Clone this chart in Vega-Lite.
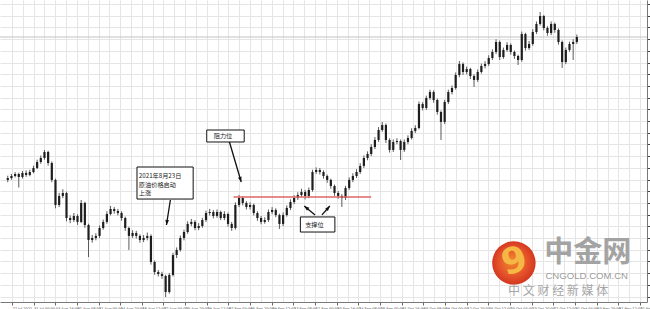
{
  "$schema": "https://vega.github.io/schema/vega-lite/v6.json",
  "width": 647,
  "height": 302,
  "autosize": "none",
  "padding": {"left": 0, "top": 0, "right": 3, "bottom": 7},
  "background": "white",
  "config": {"view": {"stroke": null}, "font": "DejaVu Sans"},
  "data": {"values": [{}]},
  "datasets": {
    "bars": [
      {"t":-1,"o":71.49,"h":71.85,"l":71.30,"c":71.65},
      {"t":0,"o":71.65,"h":72.00,"l":71.50,"c":71.82},
      {"t":1,"o":71.82,"h":72.15,"l":71.70,"c":71.99},
      {"t":2,"o":71.99,"h":72.10,"l":70.85,"c":71.74},
      {"t":3,"o":71.74,"h":72.25,"l":71.60,"c":72.08},
      {"t":4,"o":72.08,"h":72.30,"l":71.75,"c":71.91},
      {"t":5,"o":71.91,"h":72.35,"l":71.80,"c":72.16},
      {"t":6,"o":72.16,"h":72.70,"l":72.05,"c":72.50},
      {"t":7,"o":72.50,"h":73.20,"l":72.40,"c":73.00},
      {"t":8,"o":73.00,"h":73.55,"l":72.85,"c":73.34},
      {"t":9,"o":73.34,"h":74.02,"l":73.20,"c":73.85},
      {"t":10,"o":73.85,"h":73.95,"l":72.70,"c":72.92},
      {"t":11,"o":72.92,"h":73.05,"l":71.30,"c":71.49},
      {"t":12,"o":71.49,"h":71.60,"l":69.10,"c":69.38},
      {"t":13,"o":69.38,"h":70.40,"l":69.20,"c":70.14},
      {"t":14,"o":70.14,"h":70.70,"l":69.95,"c":70.39},
      {"t":15,"o":70.39,"h":70.50,"l":68.00,"c":68.28},
      {"t":16,"o":68.28,"h":68.50,"l":67.85,"c":68.11},
      {"t":17,"o":68.11,"h":68.70,"l":67.95,"c":68.45},
      {"t":18,"o":68.45,"h":68.60,"l":67.70,"c":67.95},
      {"t":19,"o":67.95,"h":69.80,"l":67.85,"c":69.55},
      {"t":20,"o":69.55,"h":69.65,"l":67.45,"c":67.69},
      {"t":21,"o":67.69,"h":67.80,"l":64.99,"c":66.43},
      {"t":22,"o":66.43,"h":66.85,"l":66.20,"c":66.60},
      {"t":23,"o":66.60,"h":67.00,"l":66.40,"c":66.77},
      {"t":24,"o":66.77,"h":67.65,"l":66.60,"c":67.44},
      {"t":25,"o":67.44,"h":68.15,"l":67.30,"c":67.95},
      {"t":26,"o":67.95,"h":68.85,"l":67.80,"c":68.62},
      {"t":27,"o":68.62,"h":69.30,"l":68.50,"c":69.04},
      {"t":28,"o":69.04,"h":69.20,"l":68.65,"c":68.87},
      {"t":29,"o":68.87,"h":69.05,"l":68.50,"c":68.70},
      {"t":30,"o":68.70,"h":68.85,"l":68.05,"c":68.28},
      {"t":31,"o":68.28,"h":68.40,"l":67.20,"c":67.44},
      {"t":32,"o":67.44,"h":67.55,"l":65.59,"c":66.77},
      {"t":33,"o":66.77,"h":67.25,"l":66.60,"c":67.02},
      {"t":34,"o":67.02,"h":67.20,"l":66.55,"c":66.77},
      {"t":35,"o":66.77,"h":66.90,"l":66.20,"c":66.43},
      {"t":36,"o":66.43,"h":66.85,"l":66.25,"c":66.60},
      {"t":37,"o":66.60,"h":67.05,"l":66.40,"c":66.77},
      {"t":38,"o":66.77,"h":66.90,"l":64.35,"c":64.57},
      {"t":39,"o":64.57,"h":64.70,"l":63.50,"c":63.73},
      {"t":40,"o":63.73,"h":63.90,"l":63.35,"c":63.56},
      {"t":41,"o":63.56,"h":63.75,"l":63.15,"c":63.39},
      {"t":42,"o":63.39,"h":63.50,"l":61.62,"c":62.04},
      {"t":43,"o":62.04,"h":63.65,"l":61.90,"c":63.48},
      {"t":44,"o":63.48,"h":65.35,"l":63.35,"c":65.16},
      {"t":45,"o":65.16,"h":65.80,"l":64.90,"c":65.59},
      {"t":46,"o":65.59,"h":66.80,"l":65.45,"c":66.60},
      {"t":47,"o":66.60,"h":67.30,"l":66.40,"c":67.10},
      {"t":48,"o":67.10,"h":68.00,"l":66.95,"c":67.78},
      {"t":49,"o":67.78,"h":68.20,"l":67.60,"c":67.95},
      {"t":50,"o":67.95,"h":68.10,"l":67.25,"c":67.44},
      {"t":51,"o":67.44,"h":67.85,"l":67.25,"c":67.61},
      {"t":52,"o":67.61,"h":68.30,"l":67.45,"c":68.11},
      {"t":53,"o":68.11,"h":68.90,"l":67.95,"c":68.70},
      {"t":54,"o":68.70,"h":69.05,"l":68.50,"c":68.79},
      {"t":55,"o":68.79,"h":68.95,"l":68.25,"c":68.45},
      {"t":56,"o":68.45,"h":69.00,"l":68.30,"c":68.79},
      {"t":57,"o":68.79,"h":68.90,"l":68.10,"c":68.28},
      {"t":58,"o":68.28,"h":68.85,"l":68.10,"c":68.62},
      {"t":59,"o":68.62,"h":68.75,"l":67.55,"c":67.78},
      {"t":60,"o":67.78,"h":67.95,"l":67.20,"c":67.44},
      {"t":61,"o":67.44,"h":69.60,"l":67.30,"c":69.38},
      {"t":62,"o":69.38,"h":70.22,"l":69.20,"c":69.97},
      {"t":63,"o":69.97,"h":70.10,"l":69.35,"c":69.55},
      {"t":64,"o":69.55,"h":69.70,"l":69.00,"c":69.21},
      {"t":65,"o":69.21,"h":69.60,"l":69.00,"c":69.38},
      {"t":66,"o":69.38,"h":69.50,"l":68.50,"c":68.70},
      {"t":67,"o":68.70,"h":68.85,"l":68.05,"c":68.28},
      {"t":68,"o":68.28,"h":68.45,"l":67.75,"c":67.95},
      {"t":69,"o":67.95,"h":68.35,"l":67.80,"c":68.11},
      {"t":70,"o":68.11,"h":69.00,"l":67.95,"c":68.79},
      {"t":71,"o":68.79,"h":69.20,"l":68.60,"c":68.96},
      {"t":72,"o":68.96,"h":69.10,"l":68.35,"c":68.53},
      {"t":73,"o":68.53,"h":68.65,"l":67.36,"c":67.78},
      {"t":74,"o":67.78,"h":68.75,"l":67.60,"c":68.53},
      {"t":75,"o":68.53,"h":69.35,"l":68.40,"c":69.13},
      {"t":76,"o":69.13,"h":69.85,"l":68.95,"c":69.63},
      {"t":77,"o":69.63,"h":70.20,"l":69.45,"c":69.97},
      {"t":78,"o":69.97,"h":70.45,"l":69.80,"c":70.22},
      {"t":79,"o":70.22,"h":70.75,"l":70.05,"c":70.47},
      {"t":80,"o":70.47,"h":70.65,"l":69.85,"c":70.14},
      {"t":81,"o":70.14,"h":70.85,"l":69.95,"c":70.64},
      {"t":82,"o":70.64,"h":72.35,"l":70.50,"c":72.16},
      {"t":83,"o":72.16,"h":72.55,"l":72.00,"c":72.33},
      {"t":84,"o":72.33,"h":72.50,"l":71.95,"c":72.16},
      {"t":85,"o":72.16,"h":72.30,"l":71.60,"c":71.82},
      {"t":86,"o":71.82,"h":71.95,"l":71.25,"c":71.49},
      {"t":87,"o":71.49,"h":71.60,"l":70.75,"c":70.98},
      {"t":88,"o":70.98,"h":71.10,"l":70.15,"c":70.39},
      {"t":89,"o":70.39,"h":70.55,"l":69.90,"c":70.14},
      {"t":90,"o":70.14,"h":70.30,"l":69.21,"c":69.97},
      {"t":91,"o":69.97,"h":71.00,"l":69.80,"c":70.81},
      {"t":92,"o":70.81,"h":71.70,"l":70.65,"c":71.49},
      {"t":93,"o":71.49,"h":72.05,"l":71.30,"c":71.82},
      {"t":94,"o":71.82,"h":72.40,"l":71.65,"c":72.16},
      {"t":95,"o":72.16,"h":72.90,"l":72.00,"c":72.67},
      {"t":96,"o":72.67,"h":73.55,"l":72.50,"c":73.34},
      {"t":97,"o":73.34,"h":73.90,"l":73.15,"c":73.68},
      {"t":98,"o":73.68,"h":74.50,"l":73.50,"c":74.27},
      {"t":99,"o":74.27,"h":75.10,"l":74.10,"c":74.86},
      {"t":100,"o":74.86,"h":75.95,"l":74.70,"c":75.70},
      {"t":101,"o":75.70,"h":76.38,"l":75.55,"c":76.12},
      {"t":102,"o":76.12,"h":76.25,"l":74.60,"c":74.86},
      {"t":103,"o":74.86,"h":75.00,"l":73.80,"c":74.02},
      {"t":104,"o":74.02,"h":74.90,"l":73.85,"c":74.69},
      {"t":105,"o":74.69,"h":75.00,"l":74.50,"c":74.77},
      {"t":106,"o":74.77,"h":74.90,"l":73.17,"c":74.02},
      {"t":107,"o":74.02,"h":74.90,"l":73.85,"c":74.69},
      {"t":108,"o":74.69,"h":75.25,"l":74.50,"c":75.03},
      {"t":109,"o":75.03,"h":75.85,"l":74.90,"c":75.62},
      {"t":110,"o":75.62,"h":76.10,"l":75.45,"c":75.87},
      {"t":111,"o":75.87,"h":78.10,"l":75.75,"c":77.89},
      {"t":112,"o":77.89,"h":78.05,"l":77.35,"c":77.56},
      {"t":113,"o":77.56,"h":78.60,"l":77.40,"c":78.40},
      {"t":114,"o":78.40,"h":79.10,"l":78.25,"c":78.90},
      {"t":115,"o":78.90,"h":79.05,"l":78.00,"c":78.23},
      {"t":116,"o":78.23,"h":78.35,"l":77.00,"c":77.22},
      {"t":117,"o":77.22,"h":77.35,"l":74.86,"c":76.38},
      {"t":118,"o":76.38,"h":78.25,"l":76.20,"c":78.06},
      {"t":119,"o":78.06,"h":79.10,"l":77.90,"c":78.90},
      {"t":120,"o":78.90,"h":79.45,"l":78.70,"c":79.24},
      {"t":121,"o":79.24,"h":80.55,"l":79.10,"c":80.34},
      {"t":122,"o":80.34,"h":81.52,"l":80.15,"c":81.26},
      {"t":123,"o":81.26,"h":81.40,"l":80.35,"c":80.59},
      {"t":124,"o":80.59,"h":81.05,"l":80.40,"c":80.84},
      {"t":125,"o":80.84,"h":80.95,"l":80.00,"c":80.25},
      {"t":126,"o":80.25,"h":80.40,"l":79.33,"c":79.92},
      {"t":127,"o":79.92,"h":80.80,"l":79.75,"c":80.59},
      {"t":128,"o":80.59,"h":81.30,"l":80.45,"c":81.10},
      {"t":129,"o":81.10,"h":81.50,"l":80.90,"c":81.26},
      {"t":130,"o":81.26,"h":82.00,"l":81.10,"c":81.77},
      {"t":131,"o":81.77,"h":82.50,"l":81.60,"c":82.28},
      {"t":132,"o":82.28,"h":83.35,"l":82.10,"c":83.12},
      {"t":133,"o":83.12,"h":83.25,"l":81.60,"c":81.85},
      {"t":134,"o":81.85,"h":82.65,"l":81.70,"c":82.45},
      {"t":135,"o":82.45,"h":83.10,"l":82.30,"c":82.87},
      {"t":136,"o":82.87,"h":83.00,"l":82.05,"c":82.28},
      {"t":137,"o":82.28,"h":82.40,"l":81.70,"c":81.94},
      {"t":138,"o":81.94,"h":82.05,"l":81.18,"c":81.60},
      {"t":139,"o":81.60,"h":84.00,"l":81.45,"c":83.79},
      {"t":140,"o":83.79,"h":83.90,"l":82.40,"c":82.61},
      {"t":141,"o":82.61,"h":83.20,"l":82.45,"c":82.95},
      {"t":142,"o":82.95,"h":84.20,"l":82.80,"c":83.96},
      {"t":143,"o":83.96,"h":84.85,"l":83.80,"c":84.64},
      {"t":144,"o":84.64,"h":85.65,"l":84.50,"c":85.31},
      {"t":145,"o":85.31,"h":85.40,"l":84.10,"c":84.30},
      {"t":146,"o":84.30,"h":84.45,"l":83.65,"c":83.88},
      {"t":147,"o":83.88,"h":84.85,"l":83.70,"c":84.64},
      {"t":148,"o":84.64,"h":84.75,"l":83.90,"c":84.13},
      {"t":149,"o":84.13,"h":84.25,"l":82.90,"c":83.12},
      {"t":150,"o":83.12,"h":83.25,"l":80.93,"c":81.43},
      {"t":151,"o":81.43,"h":82.65,"l":81.25,"c":82.45},
      {"t":152,"o":82.45,"h":83.15,"l":82.30,"c":82.95},
      {"t":153,"o":82.95,"h":83.35,"l":81.60,"c":83.12},
      {"t":154,"o":83.12,"h":83.75,"l":82.95,"c":83.54}
    ],
    "boxes": [
      {"x1":34.2,"x2":49.5,"p1":72.58,"p2":69.88},
      {"x1":53.2,"x2":63.4,"p1":75.70,"p2":74.69},
      {"x1":78.7,"x2":88.1,"p1":68.37,"p2":67.10}
    ],
    "notes": [
      {"x":34.7,"p":71.82,"txt":"2021年8月23日"},
      {"x":34.7,"p":71.10,"txt":"原油价格启动"},
      {"x":34.7,"p":70.38,"txt":"上涨"},
      {"x":55.1,"p":75.19,"txt":"阻力位"},
      {"x":80.0,"p":67.72,"txt":"支撑位"}
    ],
    "arrows": [
      {"x1":43.29,"p1":69.80,"x2":42.22,"p2":67.69},
      {"x1":59.38,"p1":74.69,"x2":62.59,"p2":71.32},
      {"x1":82.70,"p1":68.54,"x2":79.75,"p2":69.29},
      {"x1":84.58,"p1":68.54,"x2":86.72,"p2":69.29}
    ]
  },
  "layer": [
    {
      "mark": {"type": "rule", "color": "#c2c2c2", "strokeWidth": 1},
      "encoding": {
        "y": {"datum": 83.54, "type": "quantitative"}
      }
    },
    {
      "data": {"name": "bars"},
      "mark": {"type": "rule", "color": "#5a5a5a", "strokeWidth": 1},
      "encoding": {
        "x": {"field": "t", "type": "quantitative", "title": null,
          "scale": {"domain": [-1.75, 171.75], "nice": false, "zero": false},
          "axis": {
            "title": null,
            "tickCount": 200,
            "values": [0.13,3.08,6.03,8.98,11.93,14.88,17.83,20.78,23.73,26.68,29.63,32.57,35.52,38.47,41.42,44.37,47.32,50.27,53.22,56.17,59.12,62.07,65.02,67.97,70.92,73.87,76.82,79.77,82.72,85.67,88.62,91.57,94.52,97.47,100.42,103.37,106.32,109.27,112.22,115.17,118.12,121.06,124.01,126.96,129.91,132.86,135.81,138.76,141.71,144.66,147.61,150.56,153.51,156.46,159.41,162.36,165.31,168.26,171.21],
            "grid": true, "gridColor": "#e5e5e5", "gridWidth": 1,
            "domainColor": "#777", "domainWidth": 1,
            "tickSize": 3,
            "tickColor": {"condition": {"test": "round(datum.value / 2.94977) % 2 === 0", "value": "#666"}, "value": "transparent"},
            "labelExpr": "round(datum.value / 2.94977) % 2 === 0 ? timeFormat(time(datetime(2021, 6, 26)) + round((datum.value + 2) * 15 / 4) * 14400000, round(datum.value) === 0 ? '%d %b %Y' : '%d %b %H:%M') : ''",
            "labelFontSize": 3.5, "labelColor": "#333", "labelAlign": "left",
            "labelPadding": 1, "labelOverlap": false, "labelFlush": false
          }
        },
        "y": {"field": "l", "type": "quantitative", "title": null,
          "scale": {"domain": [61.2, 86.66], "nice": false, "zero": false},
          "axis": {
            "title": null, "orient": "right",
            "tickCount": 200,
            "values": [86.3228,85.3111,84.3838,83.3721,82.3604,81.3487,80.4214,79.4098,78.3981,77.4708,76.4591,75.4474,74.52,73.5084,72.4967,71.4851,70.5577,69.5461,68.5344,67.6071,66.5954,65.5838,64.6564,63.6448,62.6331,61.6214],
            "grid": true, "gridColor": "#e5e5e5", "gridWidth": 1,
            "domainColor": "#777", "tickColor": "#444", "tickSize": 3,
            "format": ".2f", "labelFontSize": 7, "labelColor": "#333"
          }
        },
        "y2": {"field": "h"}
      }
    },
    {
      "data": {"name": "bars"},
      "mark": {"type": "bar", "color": "#1e1e1e", "width": 2.2},
      "encoding": {
        "x": {"field": "t", "type": "quantitative"},
        "y": {"field": "o", "type": "quantitative"},
        "y2": {"field": "c"}
      }
    },
    {
      "mark": {"type": "rule", "color": "#e06464", "strokeWidth": 1.3},
      "encoding": {
        "x": {"datum": 60.5, "type": "quantitative"},
        "x2": {"datum": 98},
        "y": {"datum": 70.05, "type": "quantitative"}
      }
    },
    {
      "data": {"name": "boxes"},
      "mark": {"type": "rect", "fill": "white", "stroke": "#111", "strokeWidth": 1},
      "encoding": {
        "x": {"field": "x1", "type": "quantitative"},
        "x2": {"field": "x2"},
        "y": {"field": "p1", "type": "quantitative"},
        "y2": {"field": "p2"}
      }
    },
    {
      "data": {"name": "notes"},
      "mark": {"type": "text", "align": "left", "baseline": "middle", "fontSize": 6.2, "color": "#222", "font": "Noto Sans CJK SC"},
      "encoding": {
        "x": {"field": "x", "type": "quantitative"},
        "y": {"field": "p", "type": "quantitative"},
        "text": {"field": "txt"}
      }
    },
    {
      "data": {"name": "arrows"},
      "mark": {"type": "rule", "color": "#111", "strokeWidth": 1.3},
      "encoding": {
        "x": {"field": "x1", "type": "quantitative"},
        "x2": {"field": "x2"},
        "y": {"field": "p1", "type": "quantitative"},
        "y2": {"field": "p2"}
      }
    },
    {
      "mark": {"type": "point", "shape": "M0,0L-0.55,1.5L0.55,1.5Z", "filled": true, "color": "#111", "size": 45, "angle": 189, "opacity": 1},
      "encoding": {"x": {"datum": 42.22, "type": "quantitative"}, "y": {"datum": 67.69, "type": "quantitative"}}
    },
    {
      "mark": {"type": "point", "shape": "M0,0L-0.55,1.5L0.55,1.5Z", "filled": true, "color": "#111", "size": 45, "angle": 163, "opacity": 1},
      "encoding": {"x": {"datum": 62.59, "type": "quantitative"}, "y": {"datum": 71.32, "type": "quantitative"}}
    },
    {
      "mark": {"type": "point", "shape": "M0,0L-0.55,1.5L0.55,1.5Z", "filled": true, "color": "#111", "size": 45, "angle": 309, "opacity": 1},
      "encoding": {"x": {"datum": 79.75, "type": "quantitative"}, "y": {"datum": 69.29, "type": "quantitative"}}
    },
    {
      "mark": {"type": "point", "shape": "M0,0L-0.55,1.5L0.55,1.5Z", "filled": true, "color": "#111", "size": 45, "angle": 41, "opacity": 1},
      "encoding": {"x": {"datum": 86.72, "type": "quantitative"}, "y": {"datum": 69.29, "type": "quantitative"}}
    },
    {
      "mark": {"type": "point", "shape": "circle", "filled": true, "size": 1890, "opacity": 1, "strokeWidth": 0,
        "fill": {"gradient": "radial", "x1": 0.45, "y1": 0.45, "x2": 0.5, "y2": 0.5, "r1": 0, "r2": 0.55,
          "stops": [{"offset": 0, "color": "#f28a2c"}, {"offset": 0.6, "color": "#e4532a"}, {"offset": 1, "color": "#cf2f1d"}]}},
      "encoding": {"x": {"datum": 136.86, "type": "quantitative"}, "y": {"datum": 64.49, "type": "quantitative"}}
    },
    {
      "mark": {"type": "text", "text": "9", "fontSize": 36, "fontWeight": "bold", "color": "#f6b845", "align": "center", "baseline": "middle", "angle": -15, "font": "DejaVu Sans"},
      "encoding": {"x": {"datum": 137.0, "type": "quantitative"}, "y": {"datum": 64.6, "type": "quantitative"}}
    },
    {
      "mark": {"type": "text", "text": "中金网", "fontSize": 29, "fontWeight": "bold", "color": "#a3a3a3", "align": "center", "baseline": "middle", "font": "Noto Sans CJK SC"},
      "encoding": {"x": {"datum": 156.96, "type": "quantitative"}, "y": {"datum": 65.3, "type": "quantitative"}}
    },
    {
      "mark": {"type": "text", "text": "CNGOLD.COM.CN", "fontSize": 9.6, "color": "#9c9c9c", "align": "center", "baseline": "middle", "font": "Liberation Sans"},
      "encoding": {"x": {"datum": 156.7, "type": "quantitative"}, "y": {"datum": 63.36, "type": "quantitative"}}
    },
    {
      "mark": {"type": "text", "text": "中   文   财   经   新   媒   体", "fontSize": 12, "color": "#a6a6a6", "align": "center", "baseline": "middle", "font": "Noto Sans CJK SC"},
      "encoding": {"x": {"datum": 148.92, "type": "quantitative"}, "y": {"datum": 62.16, "type": "quantitative"}}
    }
  ]
}
